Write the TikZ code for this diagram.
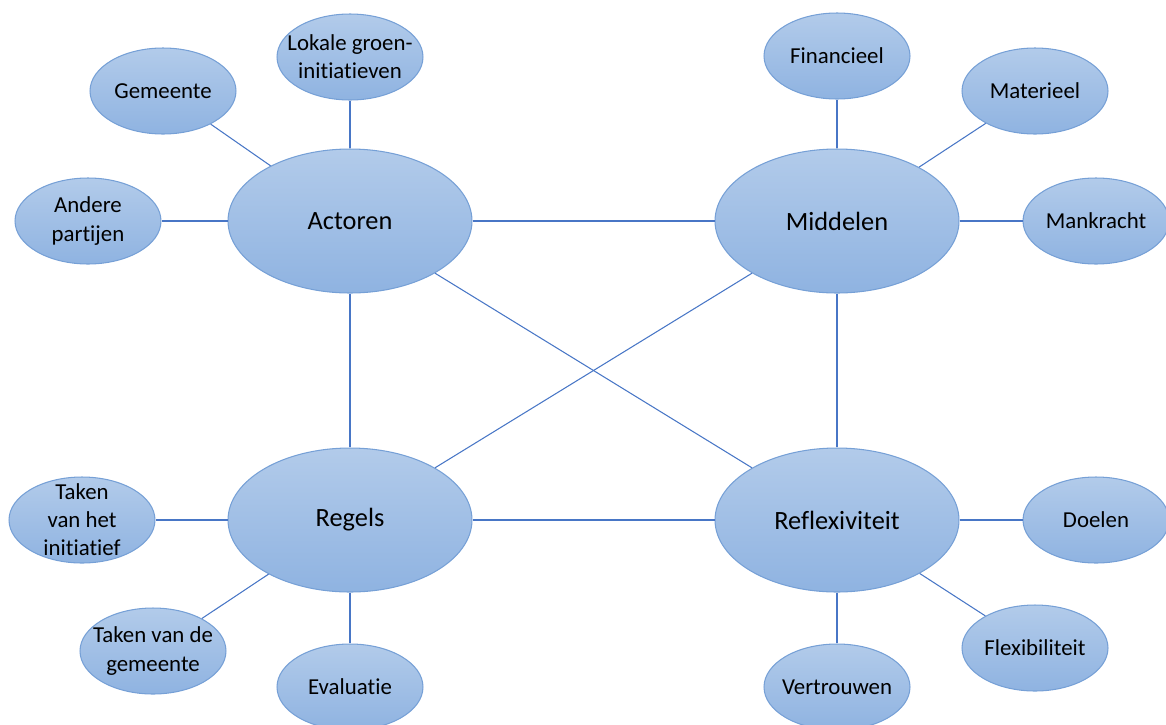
\documentclass[tikz,border=0pt]{standalone}
\usepackage{fontspec}
\setmainfont{Carlito}[Ligatures=NoCommon]
\usepackage{xcolor}
\usetikzlibrary{shapes.geometric}
\definecolor{ovtop}{RGB}{178,203,234}
\definecolor{ovbot}{RGB}{143,179,225}
\definecolor{ovrand}{RGB}{118,160,214}
\definecolor{lijn}{RGB}{72,118,198}

\begin{document}
\begin{tikzpicture}[x=0.02cm,y=-0.02cm,semithick]
	\tikzstyle{hoofd} = [draw=ovrand,ellipse,top color=ovtop,bottom color=ovbot,minimum width=4.88cm,minimum height=2.88cm,inner sep=0pt,font=\fontsize{15}{18}\selectfont]
	\tikzstyle{sub} = [draw=ovrand,ellipse,top color=ovtop,bottom color=ovbot,minimum width=2.92cm,minimum height=1.72cm,inner sep=-8pt,align=center,font=\fontsize{13}{16}\selectfont]
	\tikzstyle{verbind} = [draw=lijn]
	
	\useasboundingbox (0,0) rectangle (1166,724);
	
	% hoofdbegrippen
	\node[hoofd] (Act) at (350,221) {Actoren};
	\node[hoofd] (Mid) at (837,221) {Middelen};
	\node[hoofd] (Reg) at (350,520) {Regels};
	\node[hoofd] (Ref) at (837,520) {Reflexiviteit};
	
	% actoren
	\node[sub] (Lok) at (350,57) {Lokale groen-\\initiatieven};
	\node[sub] (Gem) at (163,91) {Gemeente};
	\node[sub] (And) at (88,221) {Andere\\partijen};
	
	% middelen
	\node[sub] (Fin) at (837,56) {Financieel};
	\node[sub] (Mat) at (1035,91) {Materieel};
	\node[sub] (Man) at (1096,221) {Mankracht};
	
	% regels
	\node[sub] (Tin) at (82,520) {Taken\\van het\\initiatief};
	\node[sub] (Tgm) at (153,651) {Taken van de\\gemeente};
	\node[sub] (Eva) at (350,687) {Evaluatie};
	
	% reflexiviteit
	\node[sub] (Doe) at (1096,520) {Doelen};
	\node[sub] (Fle) at (1035,648) {Flexibiliteit};
	\node[sub] (Ver) at (837,687) {Vertrouwen};
	
	\draw[verbind] (Act) -- (Mid);
	\draw[verbind] (Act) -- (Reg);
	\draw[verbind] (Mid) -- (Ref);
	\draw[verbind] (Reg) -- (Ref);
	\draw[verbind] (Act) -- (Ref);
	\draw[verbind] (Mid) -- (Reg);
	
	\draw[verbind] (Act) -- (Lok);
	\draw[verbind] (Act) -- (Gem);
	\draw[verbind] (Act) -- (And);
	\draw[verbind] (Mid) -- (Fin);
	\draw[verbind] (Mid) -- (Mat);
	\draw[verbind] (Mid) -- (Man);
	\draw[verbind] (Reg) -- (Tin);
	\draw[verbind] (Reg) -- (Tgm);
	\draw[verbind] (Reg) -- (Eva);
	\draw[verbind] (Ref) -- (Doe);
	\draw[verbind] (Ref) -- (Fle);
	\draw[verbind] (Ref) -- (Ver);
	
\end{tikzpicture}
\end{document}
